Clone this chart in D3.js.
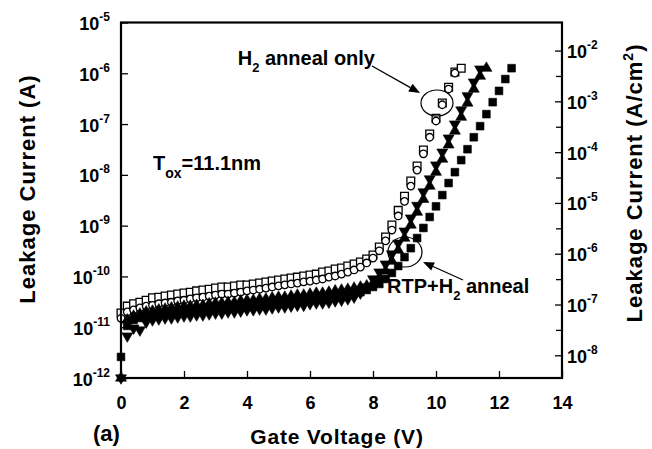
<!DOCTYPE html>
<html>
<head>
<meta charset="utf-8">
<script src="https://cdn.jsdelivr.net/npm/d3@7"></script>
<style>
  body { margin: 0; background: #fff; }
  text { font-family: "Liberation Sans", Arial, Helvetica, sans-serif; font-weight: bold; fill: #000; }
</style>
</head>
<body>
<div id="chart"></div>
<script>
// gate voltage grid (V), shared by all curves
const gateV = [0, 0.2, 0.4, 0.6, 0.8, 1.0, 1.2, 1.4, 1.6, 1.8,
  2.0, 2.2, 2.4, 2.6, 2.8, 3.0, 3.2, 3.4, 3.6, 3.8,
  4.0, 4.2, 4.4, 4.6, 4.8, 5.0, 5.2, 5.4, 5.6, 5.8,
  6.0, 6.2, 6.4, 6.6, 6.8, 7.0, 7.2, 7.4, 7.6, 7.8,
  8.0, 8.2, 8.4, 8.6, 8.8, 9.0, 9.2, 9.4, 9.6, 9.8,
  10.0, 10.2, 10.4, 10.6, 10.8, 11.0, 11.2, 11.4, 11.6, 11.8,
  12.0, 12.2, 12.4];

// H2 anneal only (open squares / open circles), leakage current in A
const h2Squares = [1.9e-11, 2.6e-11, 2.9e-11, 3.1e-11, 3.4e-11, 3.8e-11, 3.9e-11, 4.1e-11, 4.3e-11, 4.5e-11,
  4.7e-11, 4.9e-11, 5.2e-11, 5.4e-11, 5.6e-11, 5.9e-11, 6.2e-11, 6.2e-11, 6.5e-11, 6.8e-11,
  6.8e-11, 7.1e-11, 7.4e-11, 7.8e-11, 8.1e-11, 8.5e-11, 8.9e-11, 9.3e-11, 9.7e-11, 1.02e-10,
  1.07e-10, 1.11e-10, 1.22e-10, 1.28e-10, 1.40e-10, 1.46e-10, 1.60e-10, 1.75e-10, 1.92e-10, 2.20e-10,
  2.64e-10, 3.8e-10, 6.0e-10, 1.03e-9, 2.0e-9, 3.8e-9, 7.6e-9, 1.5e-8, 3.1e-8, 6.4e-8,
  1.3e-7, 2.6e-7, 5.3e-7, 1.06e-6, 1.26e-6];
const h2Circles = [1.5e-11, 2.0e-11, 2.2e-11, 2.4e-11, 2.6e-11, 2.7e-11, 2.9e-11, 3.0e-11, 3.1e-11, 3.3e-11,
  3.4e-11, 3.6e-11, 3.8e-11, 3.9e-11, 4.1e-11, 4.3e-11, 4.5e-11, 4.5e-11, 4.7e-11, 4.9e-11,
  5.2e-11, 5.4e-11, 5.6e-11, 5.9e-11, 6.2e-11, 6.5e-11, 6.8e-11, 7.1e-11, 7.4e-11, 7.8e-11,
  8.1e-11, 8.5e-11, 8.9e-11, 9.7e-11, 1.02e-10, 1.11e-10, 1.22e-10, 1.34e-10, 1.53e-10, 1.84e-10,
  2.3e-10, 3.2e-10, 5.0e-10, 8.2e-10, 1.55e-9, 3.0e-9, 6.0e-9, 1.24e-8, 2.6e-8, 5.5e-8,
  1.15e-7, 2.4e-7, 4.9e-7, 1.01e-6];

// RTP + H2 anneal (filled symbols)
const rtpTriDown = [1.0e-12, 6.7e-12, 9.6e-12, 8.8e-12, 1.26e-11, 1.39e-11, 1.45e-11, 1.52e-11, 1.52e-11, 1.59e-11,
  1.66e-11, 1.66e-11, 1.74e-11, 1.74e-11, 1.82e-11, 1.9e-11, 1.9e-11, 2.0e-11, 2.0e-11, 2.08e-11,
  2.2e-11, 2.2e-11, 2.28e-11, 2.28e-11, 2.4e-11, 2.5e-11, 2.5e-11, 2.6e-11, 2.7e-11, 2.7e-11,
  2.9e-11, 3.0e-11, 3.0e-11, 3.1e-11, 3.3e-11, 3.4e-11, 3.6e-11, 3.9e-11, 4.7e-11, 6.2e-11,
  8.9e-11, 1.22e-10, 1.75e-10, 2.76e-10, 4.5e-10, 7.8e-10, 1.41e-9, 2.5e-9, 4.6e-9, 8.3e-9,
  1.56e-8, 2.8e-8, 5.3e-8, 1.0e-7, 1.89e-7, 3.6e-7, 6.7e-7, 1.21e-6];
const rtpTriUp = [1.0e-12, 1.39e-11, 1.66e-11, 1.82e-11, 2.0e-11, 2.08e-11, 2.2e-11, 2.28e-11, 2.4e-11, 2.5e-11,
  2.6e-11, 2.6e-11, 2.7e-11, 2.7e-11, 2.9e-11, 3.0e-11, 3.0e-11, 3.1e-11, 3.1e-11, 3.3e-11,
  3.4e-11, 3.4e-11, 3.6e-11, 3.6e-11, 3.8e-11, 3.9e-11, 3.9e-11, 4.1e-11, 4.3e-11, 4.3e-11,
  4.5e-11, 4.7e-11, 4.7e-11, 4.9e-11, 5.2e-11, 5.4e-11, 5.6e-11, 5.9e-11, 6.2e-11, 6.5e-11,
  7.4e-11, 9.3e-11, 1.28e-10, 2.0e-10, 3.3e-10, 5.7e-10, 1.03e-9, 1.85e-9, 3.3e-9, 6.0e-9,
  1.13e-8, 2.05e-8, 3.9e-8, 7.3e-8, 1.37e-7, 2.6e-7, 4.9e-7, 8.8e-7, 1.26e-6];
const rtpSquares = [2.6e-12, 1.06e-11, 1.39e-11, 1.52e-11, 1.59e-11, 1.74e-11, 1.74e-11, 1.82e-11, 1.9e-11, 2.0e-11,
  2.08e-11, 2.08e-11, 2.2e-11, 2.2e-11, 2.28e-11, 2.4e-11, 2.4e-11, 2.5e-11, 2.5e-11, 2.6e-11,
  2.7e-11, 2.7e-11, 2.9e-11, 2.9e-11, 3.0e-11, 3.1e-11, 3.1e-11, 3.3e-11, 3.3e-11, 3.4e-11,
  3.6e-11, 3.6e-11, 3.8e-11, 3.9e-11, 4.1e-11, 4.3e-11, 4.5e-11, 4.7e-11, 4.9e-11, 5.4e-11,
  6.2e-11, 7.1e-11, 8.9e-11, 1.17e-10, 1.6e-10, 2.4e-10, 3.6e-10, 5.7e-10, 9.0e-10, 1.48e-9,
  2.4e-9, 4.0e-9, 6.9e-9, 1.13e-8, 1.95e-8, 3.2e-8, 5.5e-8, 9.1e-8, 1.57e-7, 2.7e-7,
  4.5e-7, 7.7e-7, 1.26e-6];

// axis ticks
const xTicks = [0, 2, 4, 6, 8, 10, 12, 14];
const leftExp = [-12, -11, -10, -9, -8, -7, -6, -5];
const rightExp = [-8, -7, -6, -5, -4, -3, -2];
const rightMinorExp = [-7.5, -6.5, -5.5, -4.5, -3.5, -2.5];
const capArea = 2.8e-4; // cm^2, links the two y axes

const width = 652, height = 449;
const svg = d3.select("#chart").append("svg")
  .attr("width", width).attr("height", height);

const x = d3.scaleLinear().domain([0, 14]).range([121, 562]);
const y = d3.scaleLog().domain([1e-12, 1e-5]).range([378, 22.5]);
const yR = d3.scaleLog().domain([1e-12 / capArea, 1e-5 / capArea]).range([378, 22.5]);

// --- data markers ---
function drawSeries(values, type, filled, rotate) {
  const sym = d3.symbol().type(type).size(type === d3.symbolCircle ? 44 : (type === d3.symbolSquare ? 60 : 52));
  svg.append("g").selectAll("path")
    .data(values.map((v, i) => [gateV[i], v]))
    .enter().append("path")
    .attr("d", sym)
    .attr("transform", d => `translate(${x(d[0])},${y(d[1])})` + (rotate ? " rotate(180)" : ""))
    .attr("fill", filled ? "#000" : "#fff")
    .attr("stroke", "#000")
    .attr("stroke-width", filled ? 0.6 : 1.3);
}
drawSeries(h2Squares, d3.symbolSquare, false, false);
drawSeries(h2Circles, d3.symbolCircle, false, false);
drawSeries(rtpTriUp, d3.symbolTriangle, true, false);
drawSeries(rtpTriDown, d3.symbolTriangle, true, true);
drawSeries(rtpSquares, d3.symbolSquare, true, false);

// --- axes ---
const gx = svg.append("g").attr("transform", "translate(0,378)")
  .call(d3.axisBottom(x).tickValues(xTicks).tickSizeInner(-7).tickSizeOuter(0).tickFormat(d3.format("d")));
gx.selectAll("text").attr("y", 18).attr("dy", "0.71em").attr("font-size", 18).attr("font-family", null);

const gl = svg.append("g").attr("transform", "translate(121,0)")
  .call(d3.axisLeft(y).tickValues(leftExp.map(e => Math.pow(10, e))).tickSizeInner(-7).tickSizeOuter(0).tickFormat(""));
gl.selectAll(".tick").each(function(d, i) {
  const t = d3.select(this).append("text")
    .attr("x", -11).attr("y", 7).attr("text-anchor", "end").attr("font-size", 18);
  t.append("tspan").text("10");
  t.append("tspan").attr("dy", -9).attr("font-size", 12).text(String(leftExp[i]));
});

const gr = svg.append("g").attr("transform", "translate(562,0)")
  .call(d3.axisRight(yR).tickValues(rightExp.map(e => Math.pow(10, e))).tickSizeInner(-7).tickSizeOuter(0).tickFormat(""));
gr.selectAll(".tick").each(function(d, i) {
  const t = d3.select(this).append("text")
    .attr("x", 5).attr("y", 7).attr("text-anchor", "start").attr("font-size", 18);
  t.append("tspan").text("10");
  t.append("tspan").attr("dy", -9).attr("font-size", 12).text(String(rightExp[i]));
});
svg.append("g").attr("transform", "translate(562,0)")
  .call(d3.axisRight(yR).tickValues(rightMinorExp.map(e => Math.pow(10, e))).tickSizeInner(-6).tickSizeOuter(0).tickFormat(""));

svg.selectAll(".domain").remove();
svg.selectAll(".tick line").attr("stroke", "#000").attr("stroke-width", 1.3);

// frame
svg.append("rect").attr("x", 121).attr("y", 22.5).attr("width", 441).attr("height", 355.5)
  .attr("fill", "none").attr("stroke", "#000").attr("stroke-width", 2.2);

// --- titles ---
svg.append("text").attr("transform", "translate(35,189) rotate(-90)")
  .attr("text-anchor", "middle").attr("font-size", 22).attr("letter-spacing", 1)
  .text("Leakage Current (A)");
const rt = svg.append("text").attr("transform", "translate(642,183) rotate(-90)")
  .attr("text-anchor", "middle").attr("font-size", 22).attr("letter-spacing", 1);
rt.append("tspan").text("Leakage Current (A/cm");
rt.append("tspan").attr("dy", -9).attr("font-size", 14).text("2");
rt.append("tspan").attr("dy", 9).text(")");

svg.append("text").attr("x", 337).attr("y", 444).attr("text-anchor", "middle")
  .attr("font-size", 21).attr("letter-spacing", 0.8).text("Gate Voltage (V)");
svg.append("text").attr("x", 93).attr("y", 441).attr("font-size", 22).text("(a)");

// --- annotations ---
const tox = svg.append("text").attr("x", 153).attr("y", 170).attr("font-size", 20);
tox.append("tspan").text("T");
tox.append("tspan").attr("dy", 8).attr("font-size", 14).text("ox");
tox.append("tspan").attr("dy", -8).text("=11.1nm");

const h2 = svg.append("text").attr("x", 375).attr("y", 65).attr("text-anchor", "end").attr("font-size", 20);
h2.append("tspan").text("H");
h2.append("tspan").attr("dy", 7).attr("font-size", 13).text("2");
h2.append("tspan").attr("dy", -7).text(" anneal only");

const rtp = svg.append("text").attr("x", 387).attr("y", 293).attr("font-size", 20);
rtp.append("tspan").text("RTP+H");
rtp.append("tspan").attr("dy", 7).attr("font-size", 13).text("2");
rtp.append("tspan").attr("dy", -7).text(" anneal");

function arrow(x1, y1, x2, y2) {
  const a = Math.atan2(y2 - y1, x2 - x1), L = 11, W = 4.5;
  const bx = x2 - L * Math.cos(a), by = y2 - L * Math.sin(a);
  svg.append("line").attr("x1", x1).attr("y1", y1).attr("x2", bx).attr("y2", by)
    .attr("stroke", "#000").attr("stroke-width", 1.3);
  svg.append("path")
    .attr("d", `M${x2},${y2}L${bx - W * Math.sin(a)},${by + W * Math.cos(a)}L${bx + W * Math.sin(a)},${by - W * Math.cos(a)}Z`)
    .attr("fill", "#000");
}
arrow(372, 66, 420, 93);
arrow(463, 280, 423, 262);

svg.append("ellipse").attr("cx", 437).attr("cy", 103).attr("rx", 16).attr("ry", 13)
  .attr("fill", "none").attr("stroke", "#000").attr("stroke-width", 1.2);
svg.append("ellipse").attr("cx", 405).attr("cy", 252).attr("rx", 17).attr("ry", 15)
  .attr("fill", "none").attr("stroke", "#000").attr("stroke-width", 1.2);
</script>
</body>
</html>
